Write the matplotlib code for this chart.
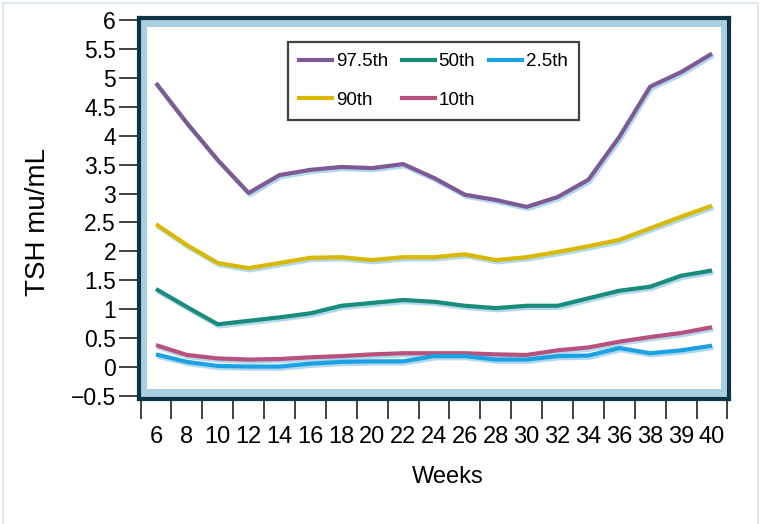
import matplotlib
matplotlib.use("Agg")
import matplotlib.pyplot as plt
import matplotlib.patheffects as pe
from matplotlib.lines import Line2D
from matplotlib.patches import Rectangle
import numpy as np


weeks = ["6", "8", "10", "12", "14", "16", "18", "20", "22", "24",
         "26", "28", "30", "32", "34", "36", "38", "39", "40"]

p975 = [4.91, 4.22, 3.58, 3.01, 3.32, 3.41, 3.46, 3.44, 3.51, 3.27,
        2.98, 2.89, 2.77, 2.94, 3.24, 3.98, 4.85, 5.10, 5.42]
p90 = [2.47, 2.11, 1.80, 1.71, 1.80, 1.89, 1.90, 1.85, 1.90, 1.90,
       1.95, 1.85, 1.90, 1.99, 2.09, 2.20, 2.40, 2.60, 2.79]
p50 = [1.35, 1.04, 0.74, 0.80, 0.86, 0.93, 1.06, 1.11, 1.16, 1.13,
       1.06, 1.02, 1.06, 1.06, 1.19, 1.32, 1.39, 1.58, 1.67]
p10 = [0.38, 0.21, 0.15, 0.13, 0.14, 0.17, 0.19, 0.22, 0.24, 0.24,
       0.24, 0.22, 0.21, 0.29, 0.34, 0.44, 0.52, 0.59, 0.69]
p25 = [0.22, 0.09, 0.02, 0.01, 0.01, 0.06, 0.09, 0.10, 0.10, 0.19,
       0.19, 0.13, 0.13, 0.19, 0.20, 0.33, 0.24, 0.29, 0.37]

yticks = [6, 5.5, 5, 4.5, 4, 3.5, 3, 2.5, 2, 1.5, 1, 0.5, 0, -0.5]
ytick_labels = ["6", "5.5", "5", "4.5", "4", "3.5", "3", "2.5", "2",
                "1.5", "1", "0.5", "0", "\u22120.5"]

series = [
    ("97.5th", p975, "#7d5a93"),
    ("90th", p90, "#d8b800"),
    ("50th", p50, "#1a8c7c"),
    ("10th", p10, "#b8517b"),
    ("2.5th", p25, "#1ca1e2"),
]

FRAME = "#0c3446"
BAND = "#a9cfe3"
SHADOW = "#b2d8ee"

plt.rcParams["font.family"] = ["Liberation Sans", "DejaVu Sans"]

fig = plt.figure(figsize=(7.61, 5.24), dpi=100)
fig.patches.append(Rectangle((3 / 761, -0.1), 755 / 761, 1.1 - 3 / 524,
                             transform=fig.transFigure, fill=False,
                             edgecolor="#dde8f2", linewidth=1.5))

ax = fig.add_axes([139 / 761, 1 - 398.5 / 524, 590 / 761, 380.5 / 524])
ax.set_facecolor(BAND)
ax.add_patch(Rectangle((0.0136, 0.024), 1 - 2 * 0.0136, 1 - 2 * 0.024,
                       transform=ax.transAxes, facecolor="white",
                       edgecolor="none", zorder=0))

x = np.arange(len(weeks))
for name, vals, color in series:
    ax.plot(x, vals, color=color, linewidth=3.0, solid_joinstyle="round",
            solid_capstyle="butt", zorder=3,
            path_effects=[pe.SimpleLineShadow(offset=(1.0, -1.6),
                                              shadow_color=SHADOW, alpha=1.0),
                          pe.Normal()])

ax.set_xlim(-0.55, 18.55)
ax.set_ylim(-0.543, 6.035)

for s in ax.spines.values():
    s.set_color(FRAME)
    s.set_linewidth(3.0)
    s.set_zorder(5)

ax.set_xticks(np.arange(-0.5, 19, 1))
ax.set_xticklabels([])
ax.set_xticks(x, minor=True)
ax.set_xticklabels(weeks, minor=True, fontsize=17)
ax.tick_params(axis="x", which="major", direction="out", length=14.5,
               width=1.3, color="#333333")
ax.tick_params(axis="x", which="minor", length=0, pad=20)

ax.set_yticks(yticks)
ax.set_yticklabels(ytick_labels, fontsize=16.5)
ax.tick_params(axis="y", direction="out", length=14.5, width=1.3,
               color="#333333", pad=2)

ax.set_xlabel("Weeks", fontsize=17)
ax.xaxis.set_label_coords(0.523, -0.178)
ax.set_ylabel("TSH mu/mL", fontsize=20)
ax.yaxis.set_label_coords(-0.149, 0.465)

handles = [Line2D([], [], color=c, linewidth=3.0) for _, _, c in series]
labels = [n for n, _, _ in series]
leg = ax.legend(handles, labels, ncol=3, loc="upper left",
                bbox_to_anchor=(0.2525, 0.937), fontsize=13.5, frameon=True,
                fancybox=False, handlelength=1.75, handletextpad=0.2,
                columnspacing=0.75, labelspacing=1.15, borderpad=0.6,
                borderaxespad=0)
leg.get_frame().set_edgecolor("#111111")
leg.get_frame().set_linewidth(1.6)
leg.set_zorder(6)

fig.savefig("out.png", dpi=100)
